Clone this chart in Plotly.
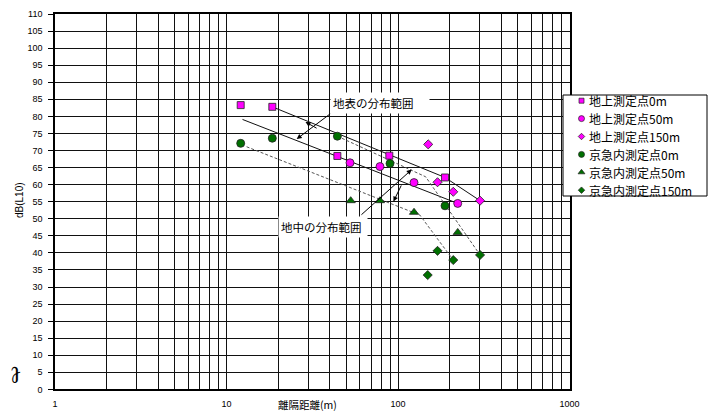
import math
import plotly.graph_objects as go

# ---------------- data ----------------
names = ["地上測定点0m", "地上測定点50m", "地上測定点150m",
         "京急内測定点0m", "京急内測定点50m", "京急内測定点150m"]

surf0_x = [12.1, 18.5, 44.3, 89.0, 188.0]
surf0_y = [83.3, 82.8, 68.4, 68.5, 62.1]
surf50_x = [52.5, 78.5, 124.0, 223.0]
surf50_y = [66.4, 65.3, 60.6, 54.5]
surf150_x = [150.0, 170.0, 210.0, 301.0]
surf150_y = [71.8, 60.7, 57.9, 55.3]
kq0_x = [12.1, 18.5, 44.3, 89.8, 188.0]
kq0_y = [72.1, 73.6, 74.2, 66.2, 53.8]
kq50_x = [53.0, 78.5, 124.0, 223.0]
kq50_y = [55.3, 55.3, 51.9, 46.0]
kq150_x = [149.0, 170.0, 210.0, 301.0]
kq150_y = [33.5, 40.6, 37.9, 39.4]

# distribution range boundary lines
surf_up_x = [18.5, 188.0, 301.0]
surf_up_y = [82.8, 62.1, 55.3]
surf_lo_x = [12.4, 223.0]
surf_lo_y = [79.1, 54.5]
under_up_x = [44.3, 145.0, 301.0]
under_up_y = [74.2, 62.3, 39.4]
under_lo_x = [13.1, 134.0, 210.0]
under_lo_y = [71.1, 51.1, 37.9]

# callout arrows: (tail_x, tail_y, head_x, head_y)
surf_arrows = [(41.06, 81.07, 25.67, 73.37), (34.2, 76.3, 28.9, 78.35)]
under_arrows = [(60.0, 50.8, 120.2, 64.4), (105.5, 60.2, 94.1, 55.06)]
surf_label = "地表の分布範囲"
under_label = "地中の分布範囲"

x_ticks_minor = [1, 2, 3, 4, 5, 6, 7, 8, 9, 10, 20, 30, 40, 50, 60, 70, 80, 90,
                 100, 200, 300, 400, 500, 600, 700, 800, 900, 1000]
x_tick_labels = {1: "1", 10: "10", 100: "100", 1000: "1000"}
y_ticks = list(range(0, 111, 5))
x_title = "離隔距離(m)"
y_title = "dB(L10)"

# ---------------- styles ----------------
MAG = "#FF00FF"
GRN = "#007000"
FONT = "Liberation Sans, Arial, Noto Sans CJK JP, sans-serif"
JFONT = "Noto Sans CJK JP, Liberation Sans, sans-serif"
W, H = 712, 411
L, R, T, B = 55, 569.5, 14, 389.4

styles = [
    dict(symbol="square", color=MAG, size=7),
    dict(symbol="circle", color=MAG, size=8),
    dict(symbol="diamond", color=MAG, size=7),
    dict(symbol="circle", color=GRN, size=8),
    dict(symbol="triangle-up", color=GRN, size=8),
    dict(symbol="diamond", color=GRN, size=7),
]
series = [(surf0_x, surf0_y), (surf50_x, surf50_y), (surf150_x, surf150_y),
          (kq0_x, kq0_y), (kq50_x, kq50_y), (kq150_x, kq150_y)]

fig = go.Figure()

for lx, ly, dash, col in [(surf_up_x, surf_up_y, "solid", "#111"),
                          (surf_lo_x, surf_lo_y, "solid", "#111"),
                          (under_up_x, under_up_y, "3px,2px", "#555"),
                          (under_lo_x, under_lo_y, "3px,2px", "#555")]:
    fig.add_trace(go.Scatter(x=lx, y=ly, mode="lines", showlegend=False,
                             line=dict(color=col, width=1, dash=dash),
                             xaxis="x", yaxis="y", hoverinfo="skip"))

for (sx, sy), st, nm in zip(series, styles, names):
    fig.add_trace(go.Scatter(
        x=sx, y=sy, mode="markers", name=nm, showlegend=False,
        marker=dict(symbol=st["symbol"], color=st["color"], size=st["size"],
                    line=dict(color="#222", width=0.8)),
        xaxis="x", yaxis="y"))

# custom legend drawn in pixel-coordinate overlay axes
leg_left, leg_top, leg_right, leg_bottom = 563, 95, 707, 196
row0, row_step = 100.7, 17.9
for i, (st, nm) in enumerate(zip(styles, names)):
    yy = row0 + i * row_step
    fig.add_trace(go.Scatter(
        x=[581.5], y=[yy], mode="markers", showlegend=False,
        marker=dict(symbol=st["symbol"], color=st["color"], size=st["size"] - 2,
                    line=dict(color="#222", width=0.7)),
        xaxis="x2", yaxis="y2", hoverinfo="skip", cliponaxis=False))

shapes = [dict(type="rect", xref="x2", yref="y2", x0=leg_left, x1=leg_right,
               y0=leg_top, y1=leg_bottom, line=dict(color="black", width=1),
               fillcolor="white", layer="below")]

annotations = []
for i, nm in enumerate(names):
    annotations.append(dict(xref="x2", yref="y2", x=587, y=row0 + i * row_step,
                            text=nm, showarrow=False, xanchor="left", yanchor="middle",
                            font=dict(family=JFONT, size=12, color="black")))

lg = math.log10
for tx, ty, hx, hy in surf_arrows + under_arrows:
    annotations.append(dict(xref="x", yref="y", axref="x", ayref="y",
                            x=lg(hx), y=hy, ax=lg(tx), ay=ty, text="",
                            showarrow=True, arrowhead=2, arrowsize=1,
                            arrowwidth=1, arrowcolor="black", standoff=0,
                            startstandoff=0))

annotations.append(dict(xref="x", yref="y", x=lg(40.1), y=83.9, text=surf_label,
                        showarrow=False, xanchor="left", yanchor="middle",
                        bgcolor="white", width=94, height=16, borderpad=2, align="left",
                        font=dict(family=JFONT, size=11.5, color="black")))
annotations.append(dict(xref="x", yref="y", x=lg(19.96), y=47.6, text=under_label,
                        showarrow=False, xanchor="left", yanchor="middle",
                        bgcolor="white", width=84, height=16, borderpad=2, align="left",
                        font=dict(family=JFONT, size=11.5, color="black")))

annotations.append(dict(xref="x2", yref="y2", x=307.5, y=404, text=x_title,
                        showarrow=False, xanchor="center", yanchor="middle",
                        font=dict(family=JFONT, size=10.5, color="black")))
annotations.append(dict(xref="x2", yref="y2", x=19, y=200, text=y_title,
                        showarrow=False, textangle=-90, xanchor="center", yanchor="middle",
                        font=dict(family=FONT, size=10, color="black")))
annotations.append(dict(xref="x2", yref="y2", x=16, y=376, text="<b>ℓ</b>",
                        showarrow=False, textangle=180, xanchor="center", yanchor="middle",
                        font=dict(family="DejaVu Serif", size=24, color="black")))

fig.update_layout(
    width=W, height=H, autosize=False,
    margin=dict(l=0, r=0, t=0, b=0, pad=0, autoexpand=False),
    paper_bgcolor="white", plot_bgcolor="rgba(0,0,0,0)", showlegend=False,
    font=dict(family=FONT, color="black"),
    xaxis=dict(type="log", domain=[L / W, R / W], range=[0, 3], anchor="y",
               tickvals=x_ticks_minor, automargin=False,
               ticktext=[x_tick_labels.get(v, "") for v in x_ticks_minor],
               showgrid=True, gridcolor="#111", gridwidth=1,
               showline=True, linecolor="black", linewidth=1.5, mirror=True,
               ticks="", ticklabelstandoff=5,
               tickfont=dict(family=FONT, size=9, color="black"),
               zeroline=False, fixedrange=True),
    yaxis=dict(domain=[(H - B) / H, (H - T) / H], range=[0, 110], anchor="x",
               tickvals=y_ticks, automargin=False,
               showgrid=True, gridcolor="#111", gridwidth=1,
               showline=True, linecolor="black", linewidth=1.5, mirror=True,
               ticks="outside", ticklen=5, tickcolor="black", ticklabelstandoff=4,
               tickfont=dict(family=FONT, size=9, color="black"),
               zeroline=False, fixedrange=True),
    xaxis2=dict(domain=[0, 1], range=[0, W], anchor="y2", visible=False,
                fixedrange=True, automargin=False),
    yaxis2=dict(domain=[0, 1], range=[H, 0], anchor="x2", visible=False,
                fixedrange=True, automargin=False),
    shapes=shapes, annotations=annotations,
)

fig.write_html("out.html")
